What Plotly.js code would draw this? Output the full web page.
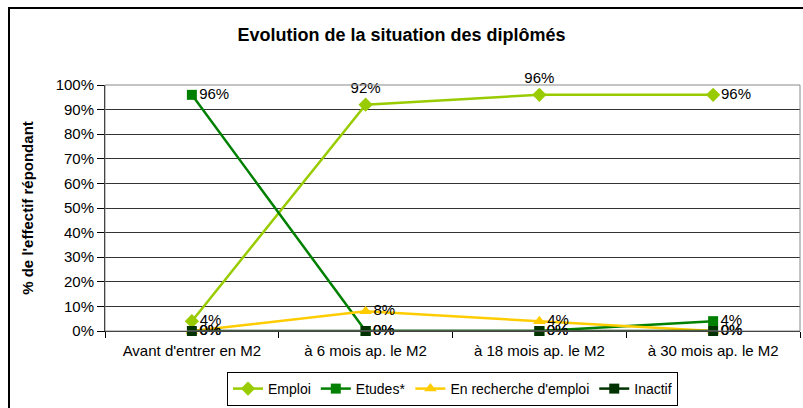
<!DOCTYPE html>
<html>
<head>
<meta charset="utf-8">
<script src="https://cdn.plot.ly/plotly-3.0.1.min.js"></script>
<style>
  body { margin: 0; background: white; }
  #wrap { position: relative; width: 803px; height: 408px; }
  #frame { position: absolute; left: 8px; top: 7px; width: 820px; height: 420px;
           border: 2px solid black; pointer-events: none; }
  #myDiv { position: absolute; left: 0; top: 0; width: 803px; height: 408px; }
</style>
</head>
<body>
<div id="wrap">
  <div id="frame"></div>
  <div id="myDiv"></div>
</div>
<script>
var categories = ["Avant d'entrer en M2", 'à 6 mois ap. le M2', 'à 18 mois ap. le M2', 'à 30 mois ap. le M2'];

var emploi    = [4, 92, 96, 96];
var etudes    = [96, 0, 0, 4];
var recherche = [0, 8, 4, 0];
var inactif   = [0, 0, 0, 0];

function pct(arr) { return arr.map(function (v) { return v + '%'; }); }

var txtFont = { family: 'Liberation Sans, Arial, sans-serif', size: 15, color: 'black' };

var trace1 = {
  x: categories, y: emploi, name: 'Emploi',
  mode: 'lines+markers+text', text: pct(emploi), cliponaxis: false,
  textposition: ['middle right', 'top center', 'top center', 'middle right'],
  textfont: txtFont,
  line: { color: '#99cc00', width: 2.5 },
  marker: { symbol: 'diamond', size: 11, color: '#99cc00' }
};
var trace2 = {
  x: categories, y: etudes, name: 'Etudes*',
  mode: 'lines+markers+text', text: pct(etudes), cliponaxis: false,
  textposition: 'middle right', textfont: txtFont,
  line: { color: '#008000', width: 2.5 },
  marker: { symbol: 'square', size: 10, color: '#008000' }
};
var trace3 = {
  x: categories, y: recherche, name: "En recherche d'emploi",
  mode: 'lines+markers+text', text: pct(recherche), cliponaxis: false,
  textposition: 'middle right',
  textfont: txtFont,
  line: { color: '#ffcc00', width: 2.5 },
  marker: { symbol: 'triangle-up', size: 11, color: '#ffcc00' }
};
var trace4 = {
  x: categories, y: inactif, name: 'Inactif',
  mode: 'lines+markers+text', text: pct(inactif), cliponaxis: false,
  textposition: 'middle right', textfont: txtFont,
  line: { color: '#003300', width: 2.5 },
  marker: { symbol: 'square', size: 10, color: '#003300' }
};

var data = [trace1, trace2, trace3, trace4];

var layout = {
  width: 803, height: 408,
  margin: { l: 105, r: 3, t: 85, b: 77 },
  font: { family: 'Liberation Sans, Arial, sans-serif', size: 15, color: 'black' },
  paper_bgcolor: 'rgba(0,0,0,0)',
  plot_bgcolor: 'white',
  title: {
    text: '<b>Evolution de la situation des diplômés</b>',
    font: { size: 18 },
    x: 0.5, xref: 'container', xanchor: 'center',
    y: 1 - 35 / 408, yref: 'container', yanchor: 'middle'
  },
  xaxis: {
    type: 'category', range: [-0.5, 3.5],
    showgrid: false, showline: true, linecolor: 'black', linewidth: 1,
    ticks: 'outside', tickson: 'boundaries', ticklen: 6, tickcolor: 'black',
    tickfont: { size: 15 }, ticklabelstandoff: 6
  },
  yaxis: {
    range: [0, 100], dtick: 10, ticksuffix: '%',
    showgrid: true, gridcolor: '#333333', gridwidth: 1,
    zeroline: false, showline: true, linecolor: 'black', linewidth: 1,
    ticks: 'outside', ticklen: 7, tickcolor: 'black',
    tickfont: { size: 15 },
    title: { text: "<b>% de l'effectif répondant</b>", font: { size: 15 }, standoff: 18 }
  },
  shapes: [{
    type: 'rect', xref: 'paper', yref: 'paper', x0: 0, x1: 1, y0: 0, y1: 1,
    line: { color: '#888888', width: 1 }
  }],
  showlegend: true,
  legend: {
    orientation: 'h', x: 0.5, xref: 'paper', xanchor: 'center',
    y: 1 - 372 / 408, yref: 'container', yanchor: 'top',
    bordercolor: 'black', borderwidth: 1, bgcolor: 'white',
    font: { size: 14 }, itemwidth: 30, tracegroupgap: 0
  }
};

Plotly.newPlot('myDiv', data, layout, { displayModeBar: false, staticPlot: true });
</script>
</body>
</html>
